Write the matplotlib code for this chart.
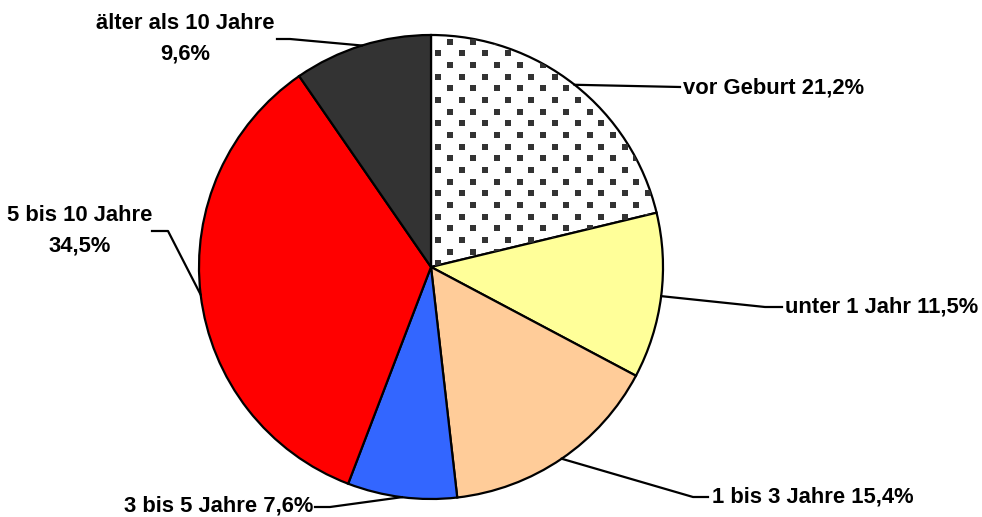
import numpy as np
import matplotlib.pyplot as plt

# Anteile nach Alter
labels = ['vor Geburt', 'unter 1 Jahr', '1 bis 3 Jahre', '3 bis 5 Jahre',
          '5 bis 10 Jahre', 'älter als 10 Jahre']
values = [21.2, 11.5, 15.4, 7.6, 34.5, 9.6]
pct_text = ['21,2%', '11,5%', '15,4%', '7,6%', '34,5%', '9,6%']
colors = ['white', '#FFFF99', '#FFCC99', '#3366FF', '#FF0000', '#333333']

W, H = 982, 517
plt.rcParams['font.family'] = ['Liberation Sans', 'DejaVu Sans']

fig = plt.figure(figsize=(W / 100, H / 100), dpi=100)
ax = fig.add_axes([0, 0, 1, 1])

cx, cy, r = 431, H - 267, 232
wedges, _ = ax.pie(values, colors=colors, startangle=90, counterclock=False,
                   center=(cx, cy), radius=r, frame=True,
                   wedgeprops=dict(edgecolor='black', linewidth=1.6))
ax.set_xlim(0, W)
ax.set_ylim(0, H)
ax.set_aspect('equal')
ax.axis('off')

# dotted fill for "vor Geburt"
gx, gy = [], []
for i, yy in enumerate(np.arange(H - 41.7, cy - 20, -11.67)):
    x0 = 450 if i % 2 == 0 else 438.3
    for xx in np.arange(x0, cx + r + 10, 23.3):
        gx.append(xx)
        gy.append(yy)
dots = ax.scatter(gx, gy, marker='s', s=20, color='#333333', linewidths=0, zorder=3)
dots.set_clip_path(wedges[0])

# label layout: (elbow points, text position, ha, multiline)
layout = [
    ([(680, 87)], (683, 88), 'left', False),
    ([(765, 307), (782, 307)], (785, 307), 'left', False),
    ([(693, 497), (708, 497)], (712, 497), 'left', False),
    ([(330, 507), (315, 507)], (313, 506), 'right', False),
    ([(168, 231), (152, 231)], (80, 231), 'center', True),
    ([(290, 39), (277, 39)], (185, 39), 'center', True),
]

for w, lab, pct, (elbows, (tx, ty), ha, multi) in zip(wedges, labels, pct_text, layout):
    mid = np.deg2rad((w.theta1 + w.theta2) / 2)
    ex, ey = cx + r * np.cos(mid), cy + r * np.sin(mid)
    xs = [ex] + [p[0] for p in elbows]
    ys = [ey] + [H - p[1] for p in elbows]
    ax.plot(xs, ys, color='black', linewidth=1.6, zorder=4)
    txt = f'{lab}\n{pct}' if multi else f'{lab} {pct}'
    ax.text(tx, H - ty, txt, ha=ha, va='center', fontsize=15.8, fontweight='bold',
            linespacing=1.6, color='black')

fig.savefig('out.png', dpi=100)
